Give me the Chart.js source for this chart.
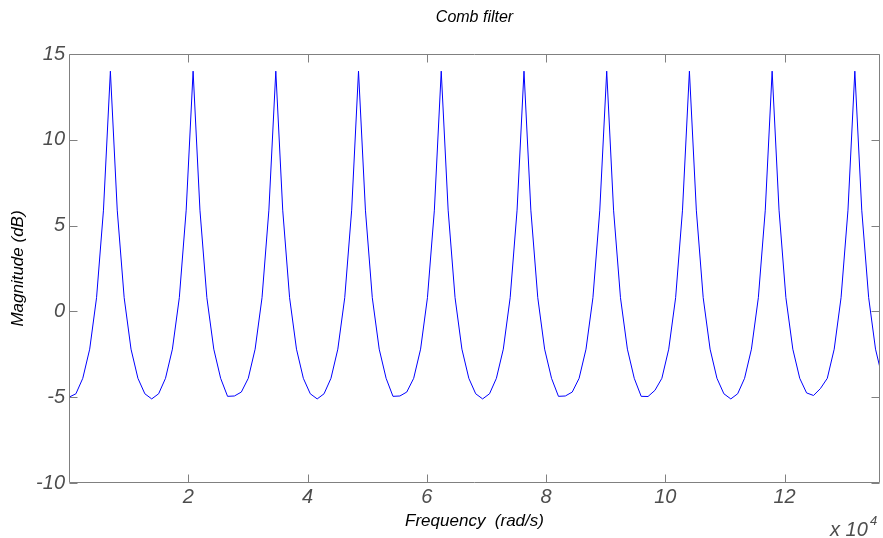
<!DOCTYPE html>
<html>
<head>
<meta charset="utf-8">
<script src="https://cdn.jsdelivr.net/npm/chart.js@4/dist/chart.umd.min.js"></script>
<style>
  html, body { margin: 0; padding: 0; background: #fff; }
  #wrap { width: 883px; height: 538px; }
</style>
</head>
<body>
<div id="wrap"><canvas id="combChart" width="883" height="538"></canvas></div>
<script>
// frequency in units of 10^4 rad/s
const freqE4 = [
  0.000, 0.116, 0.231, 0.347, 0.462, 0.578, 0.694, 0.809, 0.925, 1.040,
  1.156, 1.272, 1.387, 1.503, 1.618, 1.734, 1.850, 1.965, 2.081, 2.196,
  2.312, 2.428, 2.543, 2.659, 2.774, 2.890, 3.006, 3.121, 3.237, 3.352,
  3.468, 3.584, 3.699, 3.815, 3.930, 4.046, 4.162, 4.277, 4.393, 4.508,
  4.624, 4.740, 4.855, 4.971, 5.086, 5.202, 5.318, 5.433, 5.549, 5.664,
  5.780, 5.896, 6.011, 6.127, 6.242, 6.358, 6.474, 6.589, 6.705, 6.820,
  6.936, 7.052, 7.167, 7.283, 7.398, 7.514, 7.630, 7.745, 7.861, 7.976,
  8.092, 8.208, 8.323, 8.439, 8.554, 8.670, 8.786, 8.901, 9.017, 9.132,
  9.248, 9.364, 9.479, 9.595, 9.710, 9.826, 9.942, 10.057, 10.173, 10.288,
  10.404, 10.520, 10.635, 10.751, 10.866, 10.982, 11.098, 11.213, 11.329, 11.444,
  11.560, 11.676, 11.791, 11.907, 12.022, 12.138, 12.254, 12.369, 12.485, 12.600,
  12.716, 12.832, 12.947, 13.063, 13.178, 13.294, 13.410, 13.525, 13.641
];

// magnitude in dB
const magnitudeDb = [
  -5.0, -4.8, -3.9, -2.2, 0.8, 5.9, 14.0, 5.9, 0.8, -2.2,
  -3.9, -4.8, -5.1, -4.8, -3.9, -2.2, 0.8, 5.9, 14.0, 5.9,
  0.8, -2.2, -3.9, -4.95, -4.93, -4.7, -3.9, -2.2, 0.8, 5.9,
  14.0, 5.9, 0.8, -2.2, -3.9, -4.8, -5.1, -4.8, -3.9, -2.2,
  0.8, 5.9, 14.0, 5.9, 0.8, -2.2, -3.9, -4.95, -4.93, -4.7,
  -3.9, -2.2, 0.8, 5.9, 14.0, 5.9, 0.8, -2.2, -3.9, -4.8,
  -5.1, -4.8, -3.9, -2.2, 0.8, 5.9, 14.0, 5.9, 0.8, -2.2,
  -3.9, -4.95, -4.93, -4.7, -3.9, -2.2, 0.8, 5.9, 14.0, 5.9,
  0.8, -2.2, -3.9, -4.95, -4.96, -4.6, -3.9, -2.2, 0.8, 5.9,
  14.0, 5.9, 0.8, -2.2, -3.9, -4.8, -5.1, -4.8, -3.9, -2.2,
  0.8, 5.9, 14.0, 5.9, 0.8, -2.2, -3.9, -4.75, -4.9, -4.5,
  -3.9, -2.2, 0.8, 5.9, 14.0, 5.9, 0.8, -2.2, -3.9
];

const xTicks = [2, 4, 6, 8, 10, 12];
const yTicks = [-10, -5, 0, 5, 10, 15];

var fontFamily = '"Liberation Sans", Arial, sans-serif';
var axisGray = '#808080';

// matlab-like box with inward tick marks, the title over the plot area and the "x 10^4" note
var matlabAxes = {
    id: 'matlabAxes',
    afterDatasetsDraw: function (chart) {
        var ctx = chart.ctx;
        var a = chart.chartArea;
        var xs = chart.scales.x, ys = chart.scales.y;
        var L = Math.round(a.left) + 0.5, R = Math.round(a.right) - 0.5;
        var T = Math.round(a.top) + 0.5, B = Math.round(a.bottom) - 0.5;
        ctx.save();
        ctx.strokeStyle = axisGray;
        ctx.lineWidth = 1;
        ctx.beginPath();
        ctx.rect(L, T, R - L, B - T);
        xTicks.forEach(function (v) {
            var px = Math.round(xs.getPixelForValue(v)) + 0.5;
            ctx.moveTo(px, B); ctx.lineTo(px, B - 8);
            ctx.moveTo(px, T); ctx.lineTo(px, T + 8);
        });
        yTicks.forEach(function (v) {
            var py = Math.round(ys.getPixelForValue(v)) + 0.5;
            ctx.moveTo(L, py); ctx.lineTo(L + 8, py);
            ctx.moveTo(R, py); ctx.lineTo(R - 8, py);
        });
        ctx.stroke();

        // title, centred on the plot box
        ctx.fillStyle = '#000';
        ctx.textAlign = 'center';
        ctx.textBaseline = 'middle';
        ctx.font = 'italic 16px ' + fontFamily;
        ctx.fillText('Comb filter', (a.left + a.right) / 2, 18);

        ctx.fillStyle = '#4d4d4d';
        ctx.textAlign = 'left';
        ctx.textBaseline = 'alphabetic';
        ctx.font = 'italic 20px ' + fontFamily;
        ctx.fillText('x 10', 830, 536);
        ctx.font = 'italic 13px ' + fontFamily;
        ctx.fillText('4', 870, 525);
        ctx.restore();
    }
};

var ctx = document.getElementById('combChart').getContext('2d');
var combChart = new Chart(ctx, {
    type: 'line',
    data: {
        datasets: [{
            label: 'Magnitude',
            data: freqE4.map(function (f, i) { return { x: f, y: magnitudeDb[i] }; }),
            borderColor: '#0000ff',
            borderWidth: 1,
            pointRadius: 0,
            tension: 0,
            fill: false
        }]
    },
    options: {
        responsive: false,
        animation: false,
        layout: { padding: { left: 0, right: 3, top: 54, bottom: 0 } },
        plugins: {
            legend: { display: false },
            tooltip: { enabled: false },
            title: { display: false }
        },
        scales: {
            x: {
                type: 'linear',
                min: 0,
                max: 13.6,
                grid: { display: false, drawTicks: false, drawOnChartArea: false },
                border: { display: false },
                afterBuildTicks: function (scale) {
                    scale.ticks = xTicks.map(function (v) { return { value: v }; });
                },
                afterFit: function (scale) { scale.height = 55; },
                ticks: {
                    padding: 2,
                    color: '#4d4d4d',
                    font: { family: fontFamily, size: 20, style: 'italic' },
                    maxRotation: 0,
                    callback: function (v) { return String(v); }
                },
                title: {
                    display: true,
                    text: 'Frequency  (rad/s)',
                    color: '#000',
                    font: { family: fontFamily, size: 17, style: 'italic' },
                    padding: { top: 0, bottom: 7 }
                }
            },
            y: {
                min: -10,
                max: 15,
                grid: { display: false, drawTicks: false, drawOnChartArea: false },
                border: { display: false },
                afterBuildTicks: function (scale) {
                    scale.ticks = yTicks.map(function (v) { return { value: v }; });
                },
                afterFit: function (scale) { scale.width = 69; },
                ticks: {
                    padding: 4,
                    color: '#4d4d4d',
                    font: { family: fontFamily, size: 20, style: 'italic' },
                    callback: function (v) { return String(v); }
                },
                title: {
                    display: true,
                    text: 'Magnitude (dB)',
                    color: '#000',
                    font: { family: fontFamily, size: 17, style: 'italic' },
                    padding: { top: 8, bottom: 0 }
                }
            }
        }
    },
    plugins: [matlabAxes]
});
</script>
</body>
</html>
